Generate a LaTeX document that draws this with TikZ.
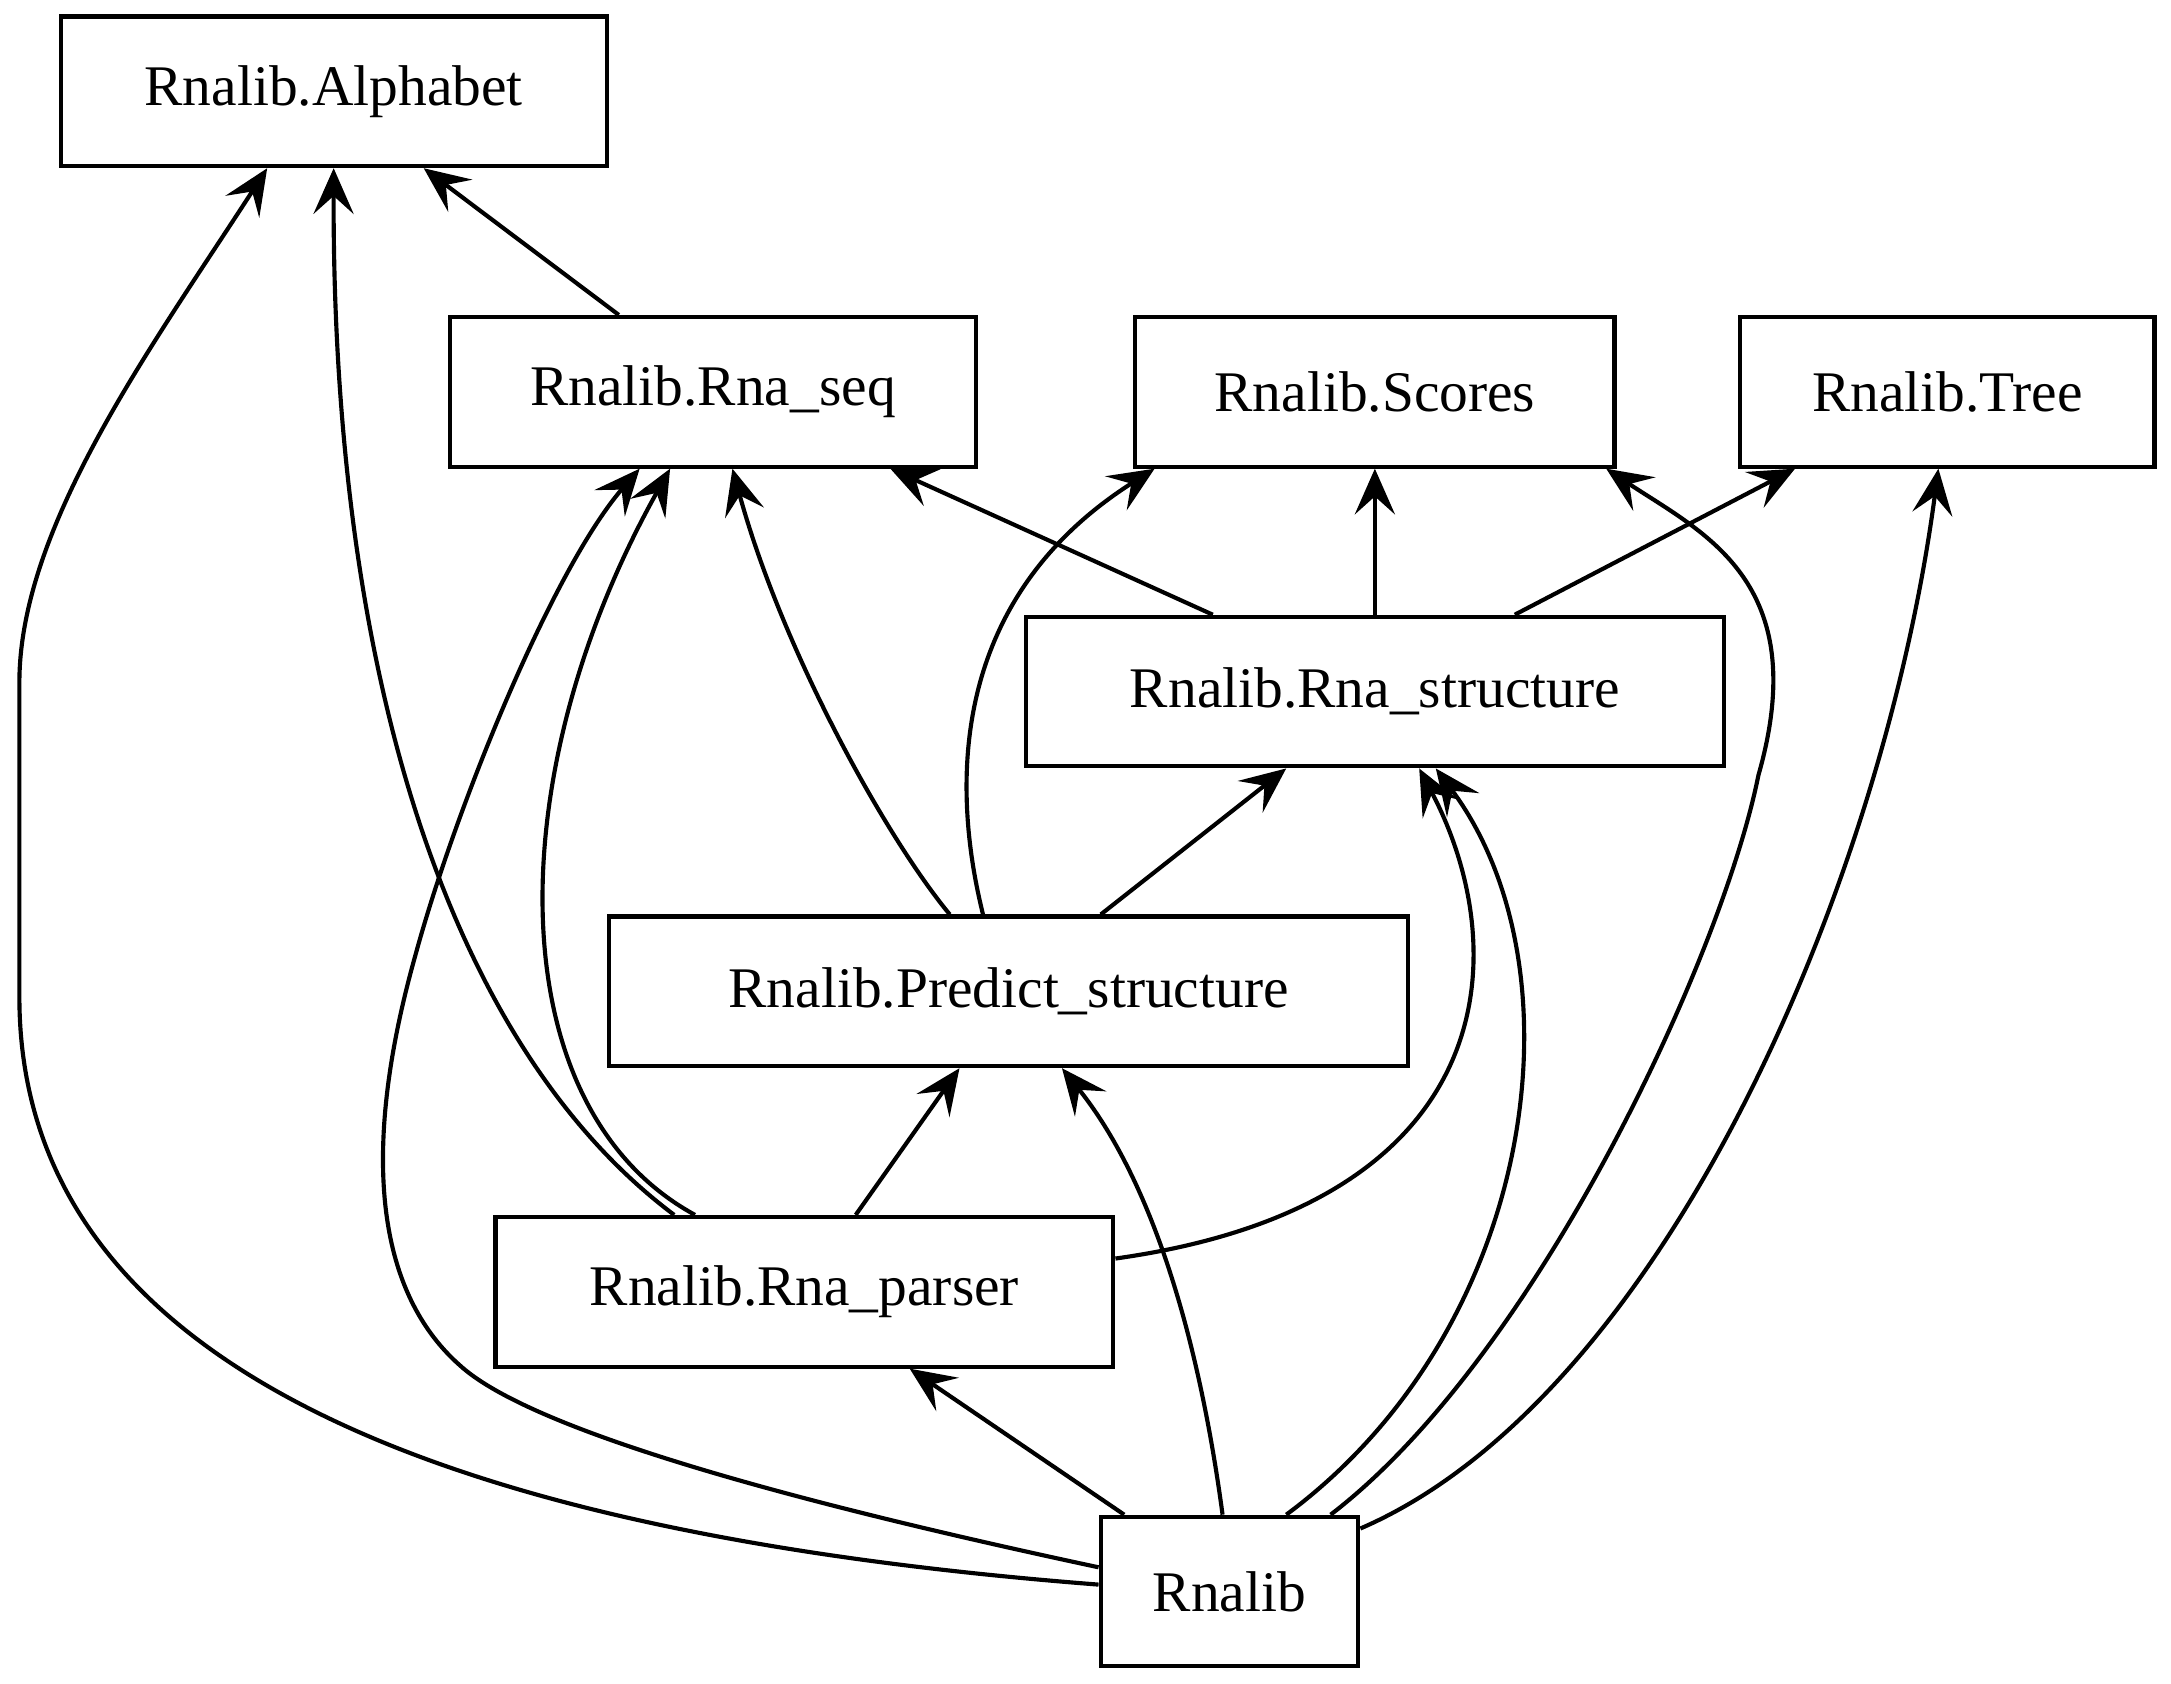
\documentclass[tikz,border=0pt]{standalone}
\usepackage{fontspec}
\setmainfont{Liberation Serif}
\usetikzlibrary{arrows.meta}
\tikzset{>={Stealth[length=3.3mm,width=2.9mm,inset=1.3mm]}}
\tikzset{mod/.style = {draw, line width=0.85pt, rectangle, inner sep=0, minimum height=1.08cm, font=\fontsize{11.8}{14}\selectfont}}
\tikzset{dep/.style = {->, line width=0.85pt}}

\begin{document}
\begin{tikzpicture}[x=0.01cm,y=-0.01cm]
        \useasboundingbox (0,0) rectangle (1568,1216);
        \node [mod, minimum width=3.94cm] (alphabet) at (241,66) {Rnalib.Alphabet};
        \node [mod, minimum width=3.80cm] (rnaseq) at (515,283) {Rnalib.Rna\_seq};
        \node [mod, minimum width=3.46cm] (scores) at (993,283) {Rnalib.Scores};
        \node [mod, minimum width=2.99cm] (tree) at (1406.5,283) {Rnalib.Tree};
        \node [mod, minimum width=5.04cm] (structure) at (993,499.5) {Rnalib.Rna\_structure};
        \node [mod, minimum width=5.77cm] (predict) at (728.5,716) {Rnalib.Predict\_structure};
        \node [mod, minimum width=4.46cm] (parser) at (581,933) {Rnalib.Rna\_parser};
        \node [mod, minimum width=1.86cm] (rnalib) at (888,1149.5) {Rnalib};
        \draw [dep] ([xshift=-0.68cm]rnaseq.north) -- ([xshift=0.65cm]alphabet.south);
        \draw [dep] ([xshift=-0.94cm]parser.north) .. controls (330,760) and (240,500) .. (alphabet.south);
        \draw [dep] ([yshift=0.05cm]rnalib.west) .. controls (350,1110) and (14,1000) .. (14,720) -- (14,493) .. controls (14,380) and (110,250) .. ([xshift=-0.48cm]alphabet.south);
        \draw [dep] ([yshift=0.175cm]rnalib.west) .. controls (550,1080) and (380,1030) .. (332,986) .. controls (280,940) and (255,850) .. (300,690) .. controls (330,580) and (400,410) .. ([xshift=-0.53cm]rnaseq.south);
        \draw [dep] ([xshift=-0.79cm]parser.north) .. controls (360,800) and (360,560) .. ([xshift=-0.31cm]rnaseq.south);
        \draw [dep] ([xshift=-0.425cm]predict.north) .. controls (640,605) and (565,470) .. ([xshift=0.14cm]rnaseq.south);
        \draw [dep] ([xshift=-1.17cm]structure.north) -- ([xshift=1.28cm]rnaseq.south);
        \draw [dep] (structure.north) -- (scores.south);
        \draw [dep] ([xshift=1.01cm]structure.north) -- ([xshift=-1.1cm]tree.south);
        \draw [dep] ([xshift=-0.185cm]predict.north) .. controls (685,560) and (690,430) .. ([xshift=-1.59cm]scores.south);
        \draw [dep] ([xshift=0.665cm]predict.north) -- ([xshift=-0.64cm]structure.south);
        \draw [dep] ([xshift=0.37cm]parser.north) -- ([xshift=-0.355cm]predict.south);
        \draw [dep] ([yshift=0.24cm]parser.east) .. controls (1085,870) and (1095,688) .. ([xshift=0.32cm]structure.south);
        \draw [dep] ([xshift=-0.05cm]rnalib.north) .. controls (865,960) and (830,850) .. ([xshift=0.385cm]predict.south);
        \draw [dep] ([xshift=0.41cm]rnalib.north) .. controls (1110,960) and (1145,700) .. ([xshift=0.44cm]structure.south);
        \draw [dep] ([xshift=0.73cm]rnalib.north) .. controls (1110,980) and (1244,690) .. (1270,560) .. controls (1310,420) and (1230,385) .. ([xshift=1.67cm]scores.south);
        \draw [dep] ([yshift=0.455cm]rnalib.east) .. controls (1200,1010) and (1360,640) .. ([xshift=-0.065cm]tree.south);
        \draw [dep] ([xshift=-0.76cm]rnalib.north) -- ([xshift=0.76cm]parser.south);
    \end{tikzpicture}
\end{document}
